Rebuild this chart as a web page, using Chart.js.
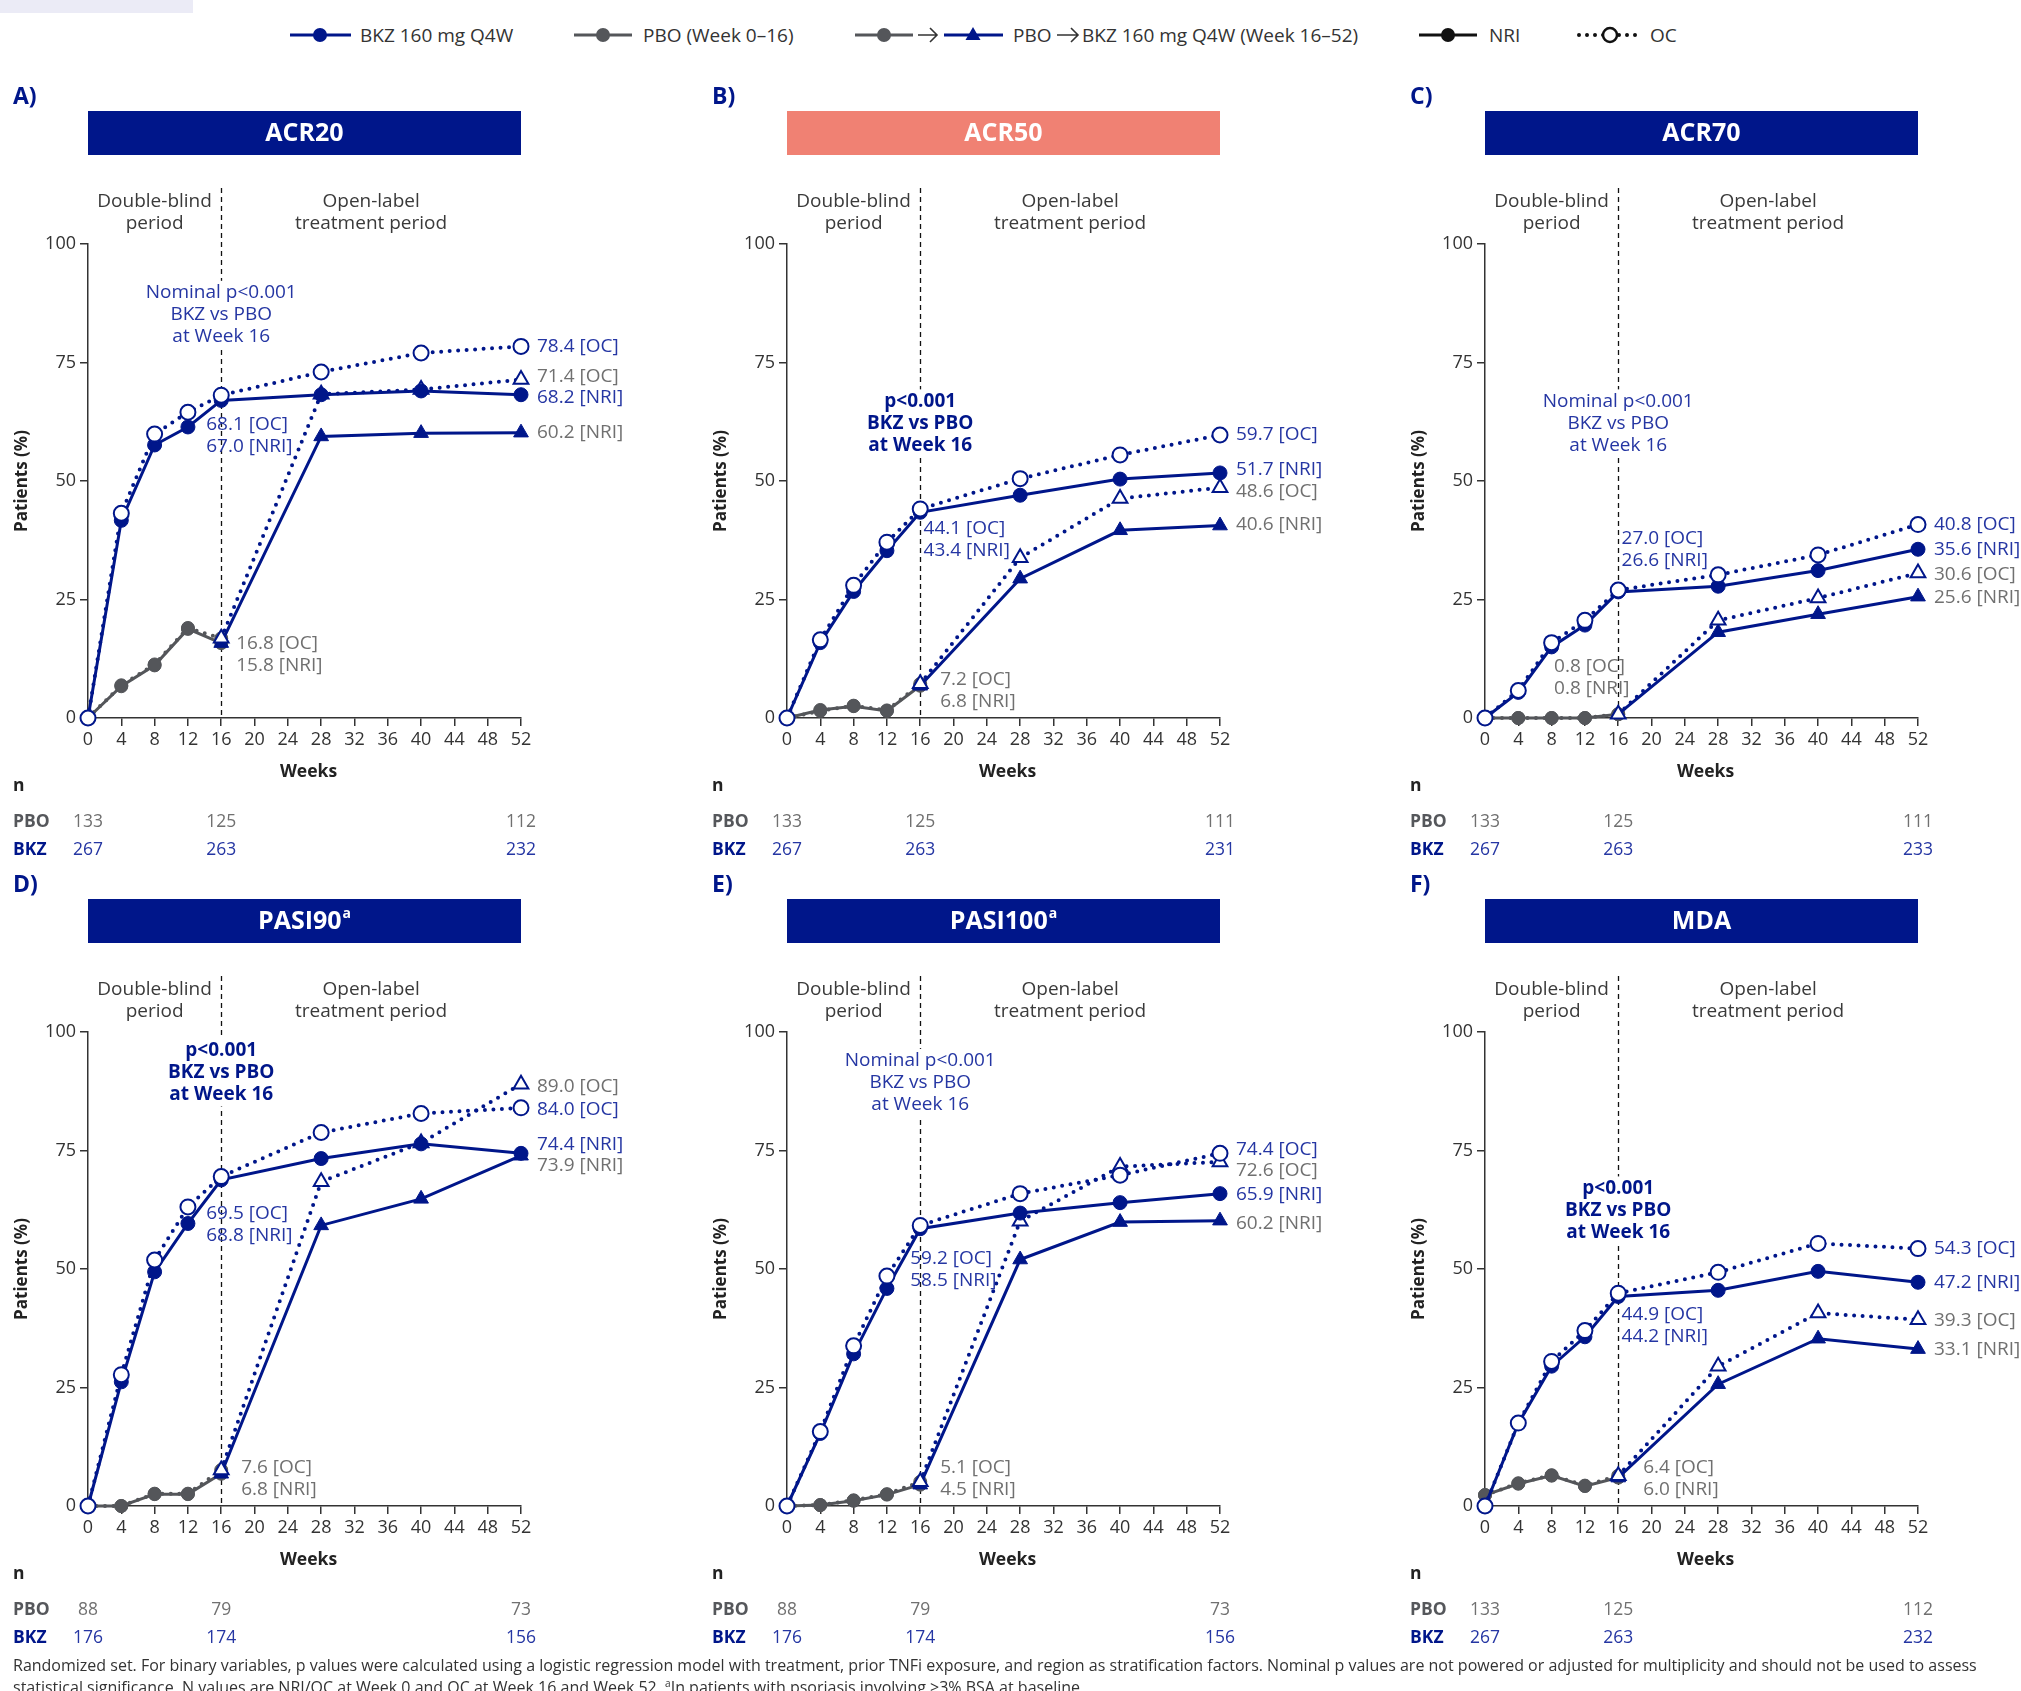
<!DOCTYPE html>
<html><head><meta charset="utf-8">
<script src="https://cdn.jsdelivr.net/npm/chart.js@4.4.1/dist/chart.umd.min.js"></script>
<style>
html,body{margin:0;padding:0;background:#fff;width:2021px;height:1691px;overflow:hidden;font-family:'Open Sans',sans-serif;}
canvas{position:absolute;}
#foot{position:absolute;left:13px;top:1656px;font-size:16px;line-height:18px;color:#333;white-space:nowrap;}
</style></head><body>
<div style="position:absolute;left:0;top:0;width:193px;height:13px;background:#ebebf6"></div>
<svg width="2021" height="70" style="position:absolute;left:0;top:0" font-family="Open Sans" font-size="19" fill="#333">
  <line x1="290" y1="35" x2="351" y2="35" stroke="#00168a" stroke-width="3"/>
  <circle cx="320" cy="35" r="7" fill="#00168a"/>
  <text x="360" y="35" dominant-baseline="central">BKZ 160 mg Q4W</text>
  <line x1="574" y1="35" x2="632" y2="35" stroke="#54565a" stroke-width="3"/>
  <circle cx="603" cy="35" r="7" fill="#54565a"/>
  <text x="643" y="35" dominant-baseline="central">PBO (Week 0–16)</text>
  <line x1="855" y1="35" x2="913" y2="35" stroke="#54565a" stroke-width="3"/>
  <circle cx="884" cy="35" r="7" fill="#54565a"/>
  <path d="M918 35 L937 35 M930 28 L937 35 L930 42" stroke="#333" stroke-width="1.6" fill="none"/>
  <line x1="944" y1="35" x2="1003" y2="35" stroke="#00168a" stroke-width="3"/>
  <path d="M973 27 L980.5 40 L965.5 40 Z" fill="#00168a"/>
  <text x="1013" y="35" dominant-baseline="central">PBO</text>
  <path d="M1057 35 L1078 35 M1071 28 L1078 35 L1071 42" stroke="#333" stroke-width="1.6" fill="none"/>
  <text x="1082" y="35" dominant-baseline="central">BKZ 160 mg Q4W (Week 16–52)</text>
  <line x1="1419" y1="35" x2="1477" y2="35" stroke="#111" stroke-width="3"/>
  <circle cx="1448" cy="35" r="7" fill="#111"/>
  <text x="1489" y="35" dominant-baseline="central">NRI</text>
  <line x1="1579" y1="35" x2="1640" y2="35" stroke="#111" stroke-width="4" stroke-dasharray="0 8" stroke-linecap="round"/>
  <circle cx="1610" cy="35" r="7" fill="#fff" stroke="#111" stroke-width="2.5"/>
  <text x="1650" y="35" dominant-baseline="central">OC</text>
</svg>
<canvas id="cA"></canvas><canvas id="cB"></canvas><canvas id="cC"></canvas>
<canvas id="cD"></canvas><canvas id="cE"></canvas><canvas id="cF"></canvas>
<div id="foot">Randomized set. For binary variables, p values were calculated using a logistic regression model with treatment, prior TNFi exposure, and region as stratification factors. Nominal p values are not powered or adjusted for multiplicity and should not be used to assess<br>statistical significance. N values are NRI/OC at Week 0 and OC at Week 16 and Week 52. <sup style="font-size:10px">a</sup>In patients with psoriasis involving &gt;3% BSA at baseline.</div>
<script>
// ---------- DATA ----------
const weeks = [0, 4, 8, 12, 16, 28, 40, 52];
const weeksPBO = [0, 4, 8, 12, 16];
const weeksSwitch = [16, 28, 40, 52];
const nWeeks = [0, 16, 52];

const panelLetters = ['A', 'B', 'C', 'D', 'E', 'F'];
const endpointNames = ['ACR20', 'ACR50', 'ACR70', 'PASI90', 'PASI100', 'MDA'];
const endpointSup = ['', '', '', 'a', 'a', ''];

// ACR20
const acr20BkzNRI = [0, 41.7, 57.6, 61.4, 67.0, 68.2, 69.0, 68.2];
const acr20BkzOC  = [0, 43.2, 59.9, 64.5, 68.1, 73.0, 77.0, 78.4];
const acr20PboNRI = [0, 6.7, 11.1, 18.8, 15.8];
const acr20PboOC  = [0, 6.9, 11.3, 19.0, 16.8];
const acr20SwNRI  = [15.8, 59.4, 60.1, 60.2];
const acr20SwOC   = [16.8, 68.3, 69.3, 71.4];
const acr20N_PBO  = [133, 125, 112];
const acr20N_BKZ  = [267, 263, 232];
// ACR50
const acr50BkzNRI = [0, 15.9, 26.7, 35.3, 43.4, 47.0, 50.4, 51.7];
const acr50BkzOC  = [0, 16.5, 28.0, 37.1, 44.1, 50.5, 55.5, 59.7];
const acr50PboNRI = [0, 1.7, 2.5, 1.5, 6.8];
const acr50PboOC  = [0, 1.5, 2.6, 1.6, 7.2];
const acr50SwNRI  = [6.8, 29.4, 39.6, 40.6];
const acr50SwOC   = [7.2, 33.8, 46.3, 48.6];
const acr50N_PBO  = [133, 125, 111];
const acr50N_BKZ  = [267, 263, 231];
// ACR70
const acr70BkzNRI = [0, 5.4, 15.0, 19.6, 26.6, 27.8, 31.1, 35.6];
const acr70BkzOC  = [0, 5.8, 15.9, 20.6, 27.0, 30.2, 34.4, 40.8];
const acr70PboNRI = [0, 0, 0, 0, 0.8];
const acr70PboOC  = [0, 0, 0, 0, 0.8];
const acr70SwNRI  = [0.8, 18.1, 21.9, 25.6];
const acr70SwOC   = [0.8, 20.6, 25.3, 30.6];
const acr70N_PBO  = [133, 125, 111];
const acr70N_BKZ  = [267, 263, 233];
// PASI90
const pasi90BkzNRI = [0, 26.2, 49.4, 59.6, 68.8, 73.3, 76.4, 74.4];
const pasi90BkzOC  = [0, 27.7, 51.9, 63.1, 69.5, 78.8, 82.8, 84.0];
const pasi90PboNRI = [0, 0, 2.5, 2.5, 6.8];
const pasi90PboOC  = [0, 0, 2.6, 2.6, 7.6];
const pasi90SwNRI  = [6.8, 59.2, 64.8, 73.9];
const pasi90SwOC   = [7.6, 68.4, 76.6, 89.0];
const pasi90N_PBO  = [88, 79, 73];
const pasi90N_BKZ  = [176, 174, 156];
// PASI100
const pasi100BkzNRI = [0, 15.3, 32.1, 45.9, 58.5, 61.8, 64.0, 65.9];
const pasi100BkzOC  = [0, 15.7, 33.8, 48.5, 59.2, 65.9, 69.8, 74.4];
const pasi100PboNRI = [0, 0.2, 1.1, 2.4, 4.5];
const pasi100PboOC  = [0, 0.2, 1.2, 2.5, 5.1];
const pasi100SwNRI  = [4.5, 52.0, 59.9, 60.2];
const pasi100SwOC   = [5.1, 60.1, 71.6, 72.6];
const pasi100N_PBO  = [88, 79, 73];
const pasi100N_BKZ  = [176, 174, 156];
// MDA
const mdaBkzNRI = [0, 17.4, 29.5, 35.7, 44.2, 45.5, 49.5, 47.2];
const mdaBkzOC  = [0, 17.5, 30.5, 37.0, 44.9, 49.3, 55.4, 54.3];
const mdaPboNRI = [2.3, 4.7, 6.4, 4.2, 6.0];
const mdaPboOC  = [2.3, 4.8, 6.5, 4.3, 6.4];
const mdaSwNRI  = [6.0, 25.7, 35.3, 33.1];
const mdaSwOC   = [6.4, 29.5, 40.7, 39.3];
const mdaN_PBO  = [133, 125, 112];
const mdaN_BKZ  = [267, 263, 232];

const pTextLines = ['p<0.001', 'BKZ vs PBO', 'at Week 16'];
const pTextNominal = ['Nominal p<0.001', 'BKZ vs PBO', 'at Week 16'];

// ---------- STYLE / LAYOUT ----------
const FONT = "'Open Sans', sans-serif";
const NAVY = '#00168a';
const BLUE_TXT = '#2536a3';
const GREY = '#54565a';
const GREY_TXT = '#707070';
const SALMON = '#f08173';
const AXIS = '#333';

const series = [
  {bkzNRI: acr20BkzNRI, bkzOC: acr20BkzOC, pboNRI: acr20PboNRI, pboOC: acr20PboOC, swNRI: acr20SwNRI, swOC: acr20SwOC, nP: acr20N_PBO, nB: acr20N_BKZ},
  {bkzNRI: acr50BkzNRI, bkzOC: acr50BkzOC, pboNRI: acr50PboNRI, pboOC: acr50PboOC, swNRI: acr50SwNRI, swOC: acr50SwOC, nP: acr50N_PBO, nB: acr50N_BKZ},
  {bkzNRI: acr70BkzNRI, bkzOC: acr70BkzOC, pboNRI: acr70PboNRI, pboOC: acr70PboOC, swNRI: acr70SwNRI, swOC: acr70SwOC, nP: acr70N_PBO, nB: acr70N_BKZ},
  {bkzNRI: pasi90BkzNRI, bkzOC: pasi90BkzOC, pboNRI: pasi90PboNRI, pboOC: pasi90PboOC, swNRI: pasi90SwNRI, swOC: pasi90SwOC, nP: pasi90N_PBO, nB: pasi90N_BKZ},
  {bkzNRI: pasi100BkzNRI, bkzOC: pasi100BkzOC, pboNRI: pasi100PboNRI, pboOC: pasi100PboOC, swNRI: pasi100SwNRI, swOC: pasi100SwOC, nP: pasi100N_PBO, nB: pasi100N_BKZ},
  {bkzNRI: mdaBkzNRI, bkzOC: mdaBkzOC, pboNRI: mdaPboNRI, pboOC: mdaPboOC, swNRI: mdaSwNRI, swOC: mdaSwOC, nP: mdaN_PBO, nB: mdaN_BKZ}
];

// label anchor positions (x in weeks, y in % units) — layout only
const layouts = [
  {left: 0,    top: 0,   w: 700, header: NAVY,   bold: false, pY: 89.7, mid: [14.2, 61.8], low: [17.8, 15.8], rY: {bkzOC: 78.3, swOC: 72.1, bkzNRI: 67.5, swNRI: 60.3}},
  {left: 699,  top: 0,   w: 700, header: SALMON, bold: true,  pY: 66.8, mid: [16.4, 39.9], low: [18.4, 8.2],  rY: {bkzOC: 59.8, bkzNRI: 52.5, swOC: 47.8, swNRI: 40.8}},
  {left: 1397, top: 0,   w: 624, header: NAVY,   bold: false, pY: 66.8, mid: [16.4, 37.8], low: [8.3, 10.9],  rY: {bkzOC: 40.8, bkzNRI: 35.6, swOC: 30.2, swNRI: 25.3}},
  {left: 0,    top: 788, w: 700, header: NAVY,   bold: true,  pY: 96.1, mid: [14.2, 61.6], low: [18.4, 8.2],  rY: {swOC: 88.5, bkzOC: 83.6, bkzNRI: 76.2, swNRI: 71.9}},
  {left: 699,  top: 788, w: 700, header: NAVY,   bold: false, pY: 93.9, mid: [14.8, 52.1], low: [18.4, 8.2],  rY: {bkzOC: 75.1, swOC: 70.8, bkzNRI: 65.6, swNRI: 59.6}},
  {left: 1397, top: 788, w: 624, header: NAVY,   bold: true,  pY: 67.0, mid: [16.4, 40.3], low: [19.0, 8.2],  rY: {bkzOC: 54.2, bkzNRI: 47.1, swOC: 39.2, swNRI: 32.9}}
];

const H = 870, CA_L = 88, CA_R = 521, CA_T = 244, CA_B = 718, YW = 60, XH = 40;

function pts(ws, vs) { return vs.map((v, i) => ({x: ws[i], y: v})); }

function dotted(color) {
  return {borderColor: color, borderWidth: 4, borderDash: [0, 8.5], borderCapStyle: 'round'};
}

function makeDatasets(s) {
  const common = {tension: 0, clip: false, fill: false};
  return [
    Object.assign({label: 'BKZ OC', data: pts(weeks, s.bkzOC), pointStyle: 'circle', pointRadius: 7.5, pointBackgroundColor: '#fff', pointBorderColor: NAVY, pointBorderWidth: 2}, dotted(NAVY), common),
    Object.assign({label: 'BKZ NRI', data: pts(weeks, s.bkzNRI), borderColor: NAVY, borderWidth: 3, pointStyle: 'circle', pointRadius: 7, pointBackgroundColor: NAVY, pointBorderColor: NAVY, pointBorderWidth: 1}, common),
    Object.assign({label: 'PBO→BKZ OC', data: pts(weeksSwitch, s.swOC), pointStyle: 'triangle', pointRadius: 8.5, pointBackgroundColor: '#fff', pointBorderColor: NAVY, pointBorderWidth: 2}, dotted(NAVY), common),
    Object.assign({label: 'PBO→BKZ NRI', data: pts(weeksSwitch, s.swNRI), borderColor: NAVY, borderWidth: 3, pointStyle: 'triangle', pointRadius: 8.5, pointBackgroundColor: NAVY, pointBorderColor: NAVY, pointBorderWidth: 1}, common),
    Object.assign({label: 'PBO OC', data: pts(weeksPBO, s.pboOC), pointStyle: 'circle', pointRadius: 6.5, pointBackgroundColor: GREY, pointBorderColor: GREY, pointBorderWidth: 1}, dotted(GREY), common),
    Object.assign({label: 'PBO NRI', data: pts(weeksPBO, s.pboNRI), borderColor: GREY, borderWidth: 3, pointStyle: 'circle', pointRadius: 6.5, pointBackgroundColor: GREY, pointBorderColor: GREY, pointBorderWidth: 1}, common)
  ];
}

const decorPlugin = {
  id: 'decor',
  beforeDatasetsDraw(chart, args, o) {
    const {ctx, chartArea: ca, scales: {x}} = chart;
    const px = Math.round(x.getPixelForValue(16)) + 0.5;
    ctx.save();
    ctx.strokeStyle = '#111'; ctx.lineWidth = 1.3; ctx.setLineDash([5, 4]);
    ctx.beginPath(); ctx.moveTo(px, 188); ctx.lineTo(px, ca.bottom); ctx.stroke();
    ctx.restore();
  },
  afterDraw(chart, args, o) {
    const {ctx, chartArea: ca, scales: {x, y}} = chart;
    const X = v => x.getPixelForValue(v), Y = v => y.getPixelForValue(v);
    const s = o.s, L = o.L;
    ctx.save();
    ctx.textBaseline = 'middle';
    // panel letter
    ctx.textAlign = 'left'; ctx.fillStyle = NAVY; ctx.font = `bold 23px ${FONT}`;
    ctx.fillText(o.letter + ')', 13, 97);
    // header box
    ctx.fillStyle = L.header; ctx.fillRect(ca.left, 111, ca.right - ca.left, 44);
    ctx.fillStyle = '#fff'; ctx.font = `bold 25px ${FONT}`;
    const mw = ctx.measureText(o.name).width;
    ctx.font = `bold 14px ${FONT}`;
    const sw = o.sup ? ctx.measureText(o.sup).width + 1 : 0;
    const cx = (ca.left + ca.right) / 2, sx = cx - (mw + sw) / 2;
    ctx.font = `bold 25px ${FONT}`; ctx.textAlign = 'left';
    ctx.fillText(o.name, sx, 134);
    if (o.sup) { ctx.font = `bold 14px ${FONT}`; ctx.fillText(o.sup, sx + mw + 1, 126); }
    // period labels
    ctx.textAlign = 'center'; ctx.fillStyle = '#3a3a3a'; ctx.font = `19px ${FONT}`;
    ctx.fillText('Double-blind', X(8), 202); ctx.fillText('period', X(8), 224);
    ctx.fillText('Open-label', X(34), 202); ctx.fillText('treatment period', X(34), 224);
    // axis titles
    ctx.fillStyle = '#222'; ctx.font = `bold 17.5px ${FONT}`;
    ctx.fillText('Weeks', X(26) + 4, 772);
    ctx.save(); ctx.translate(22, (ca.top + ca.bottom) / 2); ctx.rotate(-Math.PI / 2);
    ctx.font = `bold 17px ${FONT}`; ctx.fillText('Patients (%)', 0, 0); ctx.restore();
    // p-value text with white backing over the dashed line
    const lines = L.bold ? pTextLines : pTextNominal;
    ctx.font = (L.bold ? 'bold ' : '') + `19px ${FONT}`;
    const py0 = Y(L.pY);
    ctx.fillStyle = '#fff';
    ctx.fillRect(X(16) - 4, py0 - 12, 8, 22 * 2 + 24);
    ctx.fillStyle = L.bold ? NAVY : BLUE_TXT; ctx.textAlign = 'center';
    lines.forEach((t, i) => ctx.fillText(t, X(16), py0 + i * 22));
    // labels at week 16
    ctx.font = `19px ${FONT}`; ctx.textAlign = 'left';
    ctx.fillStyle = BLUE_TXT;
    ctx.fillText(s.bkzOC[4].toFixed(1) + ' [OC]', X(L.mid[0]), Y(L.mid[1]));
    ctx.fillText(s.bkzNRI[4].toFixed(1) + ' [NRI]', X(L.mid[0]), Y(L.mid[1]) + 22);
    ctx.fillStyle = GREY_TXT;
    ctx.fillText(s.pboOC[4].toFixed(1) + ' [OC]', X(L.low[0]), Y(L.low[1]));
    ctx.fillText(s.pboNRI[4].toFixed(1) + ' [NRI]', X(L.low[0]), Y(L.low[1]) + 22);
    // end labels at week 52
    const ex = X(52) + 16;
    const last = a => a[a.length - 1].toFixed(1);
    ctx.fillStyle = BLUE_TXT;
    ctx.fillText(last(s.bkzOC) + ' [OC]', ex, Y(L.rY.bkzOC));
    ctx.fillText(last(s.bkzNRI) + ' [NRI]', ex, Y(L.rY.bkzNRI));
    ctx.fillStyle = GREY_TXT;
    ctx.fillText(last(s.swOC) + ' [OC]', ex, Y(L.rY.swOC));
    ctx.fillText(last(s.swNRI) + ' [NRI]', ex, Y(L.rY.swNRI));
    // n table
    ctx.textAlign = 'left'; ctx.font = `bold 17.5px ${FONT}`;
    ctx.fillStyle = '#222'; ctx.fillText('n', 13, 786);
    ctx.fillStyle = '#55575b'; ctx.fillText('PBO', 13, 822);
    ctx.fillStyle = NAVY; ctx.fillText('BKZ', 13, 850);
    ctx.textAlign = 'center'; ctx.font = `17.5px ${FONT}`;
    nWeeks.forEach((w, i) => {
      ctx.fillStyle = GREY_TXT; ctx.fillText(String(s.nP[i]), X(w), 822);
      ctx.fillStyle = BLUE_TXT; ctx.fillText(String(s.nB[i]), X(w), 850);
    });
    ctx.restore();
  }
};

Chart.defaults.font.family = FONT;

const ids = ['cA', 'cB', 'cC', 'cD', 'cE', 'cF'];
ids.forEach((id, k) => {
  const L = layouts[k], s = series[k];
  const cv = document.getElementById(id);
  cv.width = L.w; cv.height = H;
  cv.style.left = L.left + 'px'; cv.style.top = L.top + 'px';
  cv.style.width = L.w + 'px'; cv.style.height = H + 'px';
  const axisCommon = {
    grid: {display: true, drawOnChartArea: false, drawTicks: true, tickLength: 8, color: AXIS, lineWidth: 1.5},
    border: {display: true, color: AXIS, width: 1.5}
  };
  new Chart(cv, {
    type: 'line',
    data: {datasets: makeDatasets(s)},
    options: {
      responsive: false, animation: false, devicePixelRatio: 1, events: [],
      layout: {padding: {left: CA_L - YW, right: L.w - CA_R, top: CA_T, bottom: H - CA_B - XH}},
      plugins: {legend: {display: false}, tooltip: {enabled: false},
        decor: {s: s, L: L, letter: panelLetters[k], name: endpointNames[k], sup: endpointSup[k]}},
      scales: {
        x: Object.assign({type: 'linear', min: 0, max: 52,
          ticks: {stepSize: 4, autoSkip: false, maxRotation: 0, color: AXIS, font: {size: 18}, padding: 3},
          afterFit: sc => { sc.height = XH; }}, axisCommon),
        y: Object.assign({type: 'linear', min: 0, max: 100,
          ticks: {stepSize: 25, color: AXIS, font: {size: 18}, padding: 4},
          afterFit: sc => { sc.width = YW; }}, axisCommon)
      }
    },
    plugins: [decorPlugin]
  });
});
</script>
</body></html>
